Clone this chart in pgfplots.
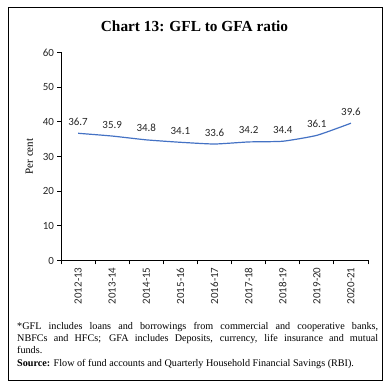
\documentclass[border=0pt]{standalone}
\usepackage{pgfplots}
\pgfplotsset{compat=1.18}
\usepackage{fontspec}
\setmainfont{Liberation Serif}
\newfontfamily\carlito{Carlito}
\definecolor{lineblue}{HTML}{4472C4}
\begin{document}
\begin{tikzpicture}[x=1bp,y=1bp]
\path[use as bounding box] (0,0) rectangle (389,388);
\draw[line width=0.9bp] (8,8) rectangle (382,381);
\node[font=\bfseries\fontsize{15.4}{17}\selectfont] at (194.5,362) {Chart 13: GFL to GFA ratio};
\begin{axis}[
  at={(61bp,127.5bp)}, anchor=south west, scale only axis,
  width=307bp, height=208bp,
  xmin=0.5, xmax=9.5, ymin=0, ymax=60,
  ytick={0,10,...,60},
  xtick={1,...,9},
  xticklabels={2012-13,2013-14,2014-15,2015-16,2016-17,2017-18,2018-19,2019-20,2020-21},
  minor xtick={0.5,1.5,...,9.5},
  axis x line*=bottom, axis y line*=left,
  axis line style={-, black, line width=0.8bp},
  tick align=outside,
  major tick length=3.5bp, minor tick length=4bp,
  major x tick style={draw=none},
  minor x tick style={black, line width=0.8bp},
  major y tick style={black, line width=0.8bp},
  /pgf/number format/assume math mode=true,
  tick label style={font=\carlito\fontsize{11}{12}\selectfont, text=black!85},
  x tick label style={rotate=90, anchor=east, yshift=0bp},
  ylabel={Per cent},
  ylabel style={font=\fontsize{11}{12}\selectfont, yshift=3bp},
  clip=false,
  nodes near coords,
  every node near coord/.append style={font=\carlito\fontsize{11}{12}\selectfont, text=black!85, yshift=4bp},
  point meta=explicit symbolic,
]
\addplot[color=lineblue, line width=1.2bp, smooth, tension=0.3, mark=none] coordinates {
(1,36.7) [36.7]
(2,35.9) [35.9]
(3,34.8) [34.8]
(4,34.1) [34.1]
(5,33.6) [33.6]
(6,34.2) [34.2]
(7,34.4) [34.4]
(8,36.1) [36.1]
(9,39.6) [39.6]
};
\end{axis}
\node[anchor=north west, text width=361bp, align=justify, inner sep=0pt,
  font=\fontsize{10.2}{12.3}\selectfont] at (17,66) {*GFL includes loans and borrowings from commercial and cooperative banks,\linebreak NBFCs and HFCs; GFA includes Deposits, currency, life insurance and mutual\linebreak funds.\\
\textbf{Source:} Flow of fund accounts and Quarterly Household Financial Savings (RBI).};
\end{tikzpicture}
\end{document}
